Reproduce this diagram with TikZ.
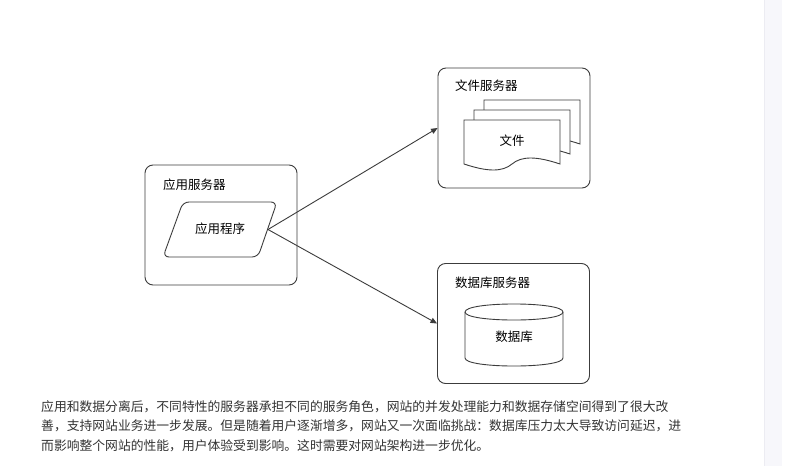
\documentclass[tikz,border=0pt]{standalone}
\usepackage{fontspec}
\setmainfont{Noto Sans CJK SC}
\usepackage{tikz}
\usetikzlibrary{arrows.meta,positioning}
\definecolor{lineGray}{RGB}{60,60,60}
\definecolor{textGray}{RGB}{51,51,51}
\definecolor{stripGray}{RGB}{247,247,251}
\definecolor{stripEdge}{RGB}{236,236,242}
\tikzset{
server/.style={draw=lineGray, line width=0.9pt, rounded corners=8pt, minimum width=152pt, minimum height=120pt, inner sep=0pt}, % outer server boxes
srvText/.style={anchor=west, inner sep=0pt, font=\fontsize{12.5}{14}\selectfont},
shapeText/.style={inner sep=0pt, font=\fontsize{12.5}{14}\selectfont},
paraText/.style={anchor=base west, inner sep=0pt, text=textGray, font=\fontsize{12.8}{19.5}\selectfont},
link/.style={draw=lineGray, line width=0.9pt, -{Triangle[length=6.5pt,width=5.5pt]}},
}
% document sheet with a wavy bottom: #1,#2 top left, #3 width, #4 height
\newcommand{\docsheet}[4]{
\draw [lineGray, line width=0.9pt, fill=white] (#1,#2) -- ({#1+#3},#2) -- ({#1+#3},{#2+#4-6})
 .. controls ({#1+0.75*#3},{#2+#4-14}) and ({#1+0.6*#3},{#2+#4-14}) .. ({#1+0.5*#3},{#2+#4-6})
 .. controls ({#1+0.4*#3},{#2+#4+2}) and ({#1+0.25*#3},{#2+#4+2}) .. (#1,{#2+#4-6}) -- cycle;
}

\begin{document}
\begin{tikzpicture}[x=1pt,y=-1pt]
%set diagram to the size of the reference
\fill [white] (0,0) rectangle (790,466);
\useasboundingbox (0,0) rectangle (790,466);
\fill [stripGray] (764,0) rectangle (782,466);
\draw [stripEdge, line width=0.6pt] (764,0) -- (764,466);

% Server boxes
\node [server] (appSrv) at (221,225) {};
\node [server] (fileSrv) at (514,128) {};
\node [server] (dbSrv) at (513.5,323.5) {};
\node [srvText] (appName) at (163,185) {应用服务器};
\node [srvText] (fileName) at (455,86) {文件服务器};
\node [srvText] (dbName) at (455,283) {数据库服务器};

% Application program
\draw [lineGray, line width=0.9pt, rounded corners=6pt] (183,202) -- (277,202) -- (258,257) -- (163,257) -- cycle;
\coordinate (progR) at (268,229.5);
\node [shapeText] (prog) at (220,229) {应用程序};

% Files
\docsheet{484}{100}{96}{50}
\docsheet{474}{110}{96}{50}
\docsheet{464}{120}{96}{50}
\node [shapeText] (files) at (512,141) {文件};

% Database
\draw [lineGray, line width=0.9pt, fill=white] (465,312) .. controls (465,301.3) and (563,301.3) .. (563,312) -- (563,358)
 .. controls (563,368.7) and (465,368.7) .. (465,358) -- cycle;
\draw [lineGray, line width=0.9pt] (465,312) .. controls (465,322.7) and (563,322.7) .. (563,312);
\node [shapeText] (db) at (514,337) {数据库};

% Links
\draw [link] (progR) -- (fileSrv.west);
\draw [link] (progR) -- (dbSrv.west);

% Text Node
\node [paraText] (line1) at (41,411) {应用和数据分离后，不同特性的服务器承担不同的服务角色，网站的并发处理能力和数据存储空间得到了很大改};
\node [paraText] (line2) at (41,430.5) {善，支持网站业务进一步发展。但是随着用户逐渐增多，网站又一次面临挑战：数据库压力太大导致访问延迟，进};
\node [paraText] (line3) at (41,450) {而影响整个网站的性能，用户体验受到影响。这时需要对网站架构进一步优化。};
\end{tikzpicture}
\end{document}
